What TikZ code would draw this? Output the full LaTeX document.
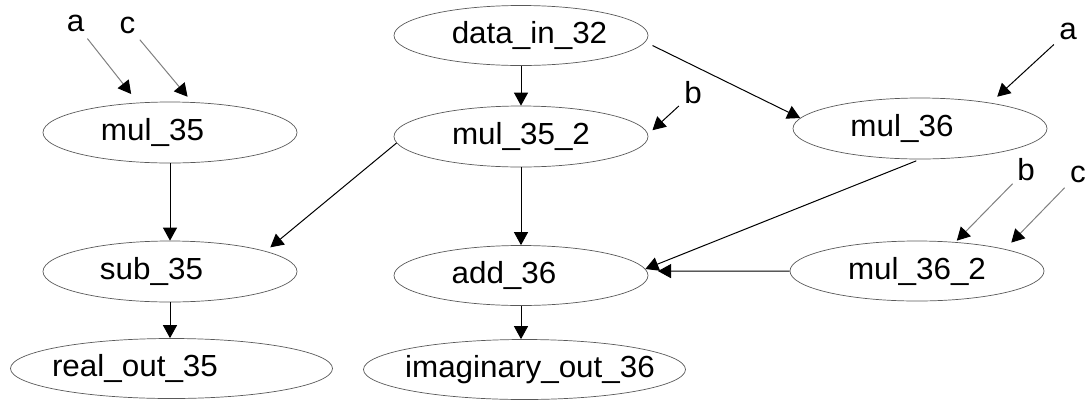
\documentclass[tikz,border=0pt]{standalone}
\usepackage{fontspec}
\setmainfont{Liberation Sans}[FakeStretch=1.03]
\usetikzlibrary{shapes.geometric, arrows.meta}

\begin{document}
\begin{tikzpicture}[
        x = 1pt, y = -1pt,
        every node/.style = {font=\fontsize{30.5}{36}\selectfont},
        op/.style    = {ellipse, draw=black!65, line width=0.7pt, inner sep=0pt,
                        minimum width=254pt, minimum height=60pt},
        wide/.style  = {op, minimum width=322pt},
        port/.style  = {circle, inner sep=0pt, minimum size=38pt},
        line/.style  = {draw, line width=1pt, -{Triangle[length=13pt, width=14pt]}},
        faint/.style = {line, draw=black!50, -{Triangle[length=13pt, width=14pt, color=black]}}
    ]
        \useasboundingbox (0,0) rectangle (1088,400);

        % 演算ノード
        \node [op, label={[xshift=8.5pt]center:data\_in\_32}]            (datain)  at (521,35.5)    {};
        \node [op, minimum height=61pt, label={[xshift=-17.5pt]center:mul\_35}] (mul35)   at (170,132.5)   {};
        \node [op, minimum height=61pt, label={center:mul\_35\_2}]       (mul352)  at (521,136.5)   {};
        \node [op, minimum height=61pt, label={[xshift=-18pt]center:mul\_36}]   (mul36)   at (920,128.5)   {};
        \node [op, minimum height=61pt, label={[xshift=-18.5pt]center:sub\_35}] (sub35)   at (170,271.5)   {};
        \node [op, label={[xshift=-17pt]center:add\_36}]                 (add36)   at (521,275.5)   {};
        \node [op, label={center:mul\_36\_2}]                            (mul362)  at (917,271)     {};
        \node [wide, label={[xshift=-36.5pt]center:real\_out\_35}]       (realout) at (171.5,368.5) {};
        \node [wide, label={[xshift=5.5pt]center:imaginary\_out\_36}]    (imagout) at (524.5,369.5) {};

        % 入力
        \node [port] (a1) at (75.5,23.5) {a};
        \node [port] (c1) at (127.5,25)  {c};
        \node [port] (b1) at (693,93)    {b};
        \node [port] (a2) at (1068,31.5) {a};
        \node [port] (b2) at (1026,170)  {b};
        \node [port] (c2) at (1078,174)  {c};

        % 矢印
        \path [faint, shorten >=11pt] (a1) -- (mul35.137);
        \path [faint, shorten >=7pt]  (c1) -- (mul35.54);
        \path [line]                  (datain) -- (mul352);
        \path [line, shorten >=6pt]   (b1) -- (mul352.1);
        \path [line, shorten <=8pt]   (datain.357) -- (mul36.175);
        \path [line, shorten >=9pt]   (a2) -- (mul36.20);
        \path [line]                  (mul35) -- (sub35);
        \path [line, shorten >=6pt]   (mul352.183) -- (sub35.12);
        \path [line]                  (mul352) -- (add36);
        \path [line, shorten <=4pt]   (mul36.south) -- (add36.3);
        \path [faint, shorten >=2pt]  (b2) -- (mul362.37);
        \path [faint, shorten >=9pt]  (c2) -- (mul362.14);
        \path [line, shorten >=11pt]  (mul362) -- (add36.2);
        \path [line]                  (sub35) -- (sub35 |- realout.north);
        \path [line]                  (add36) -- (add36 |- imagout.north);
    \end{tikzpicture}
\end{document}
